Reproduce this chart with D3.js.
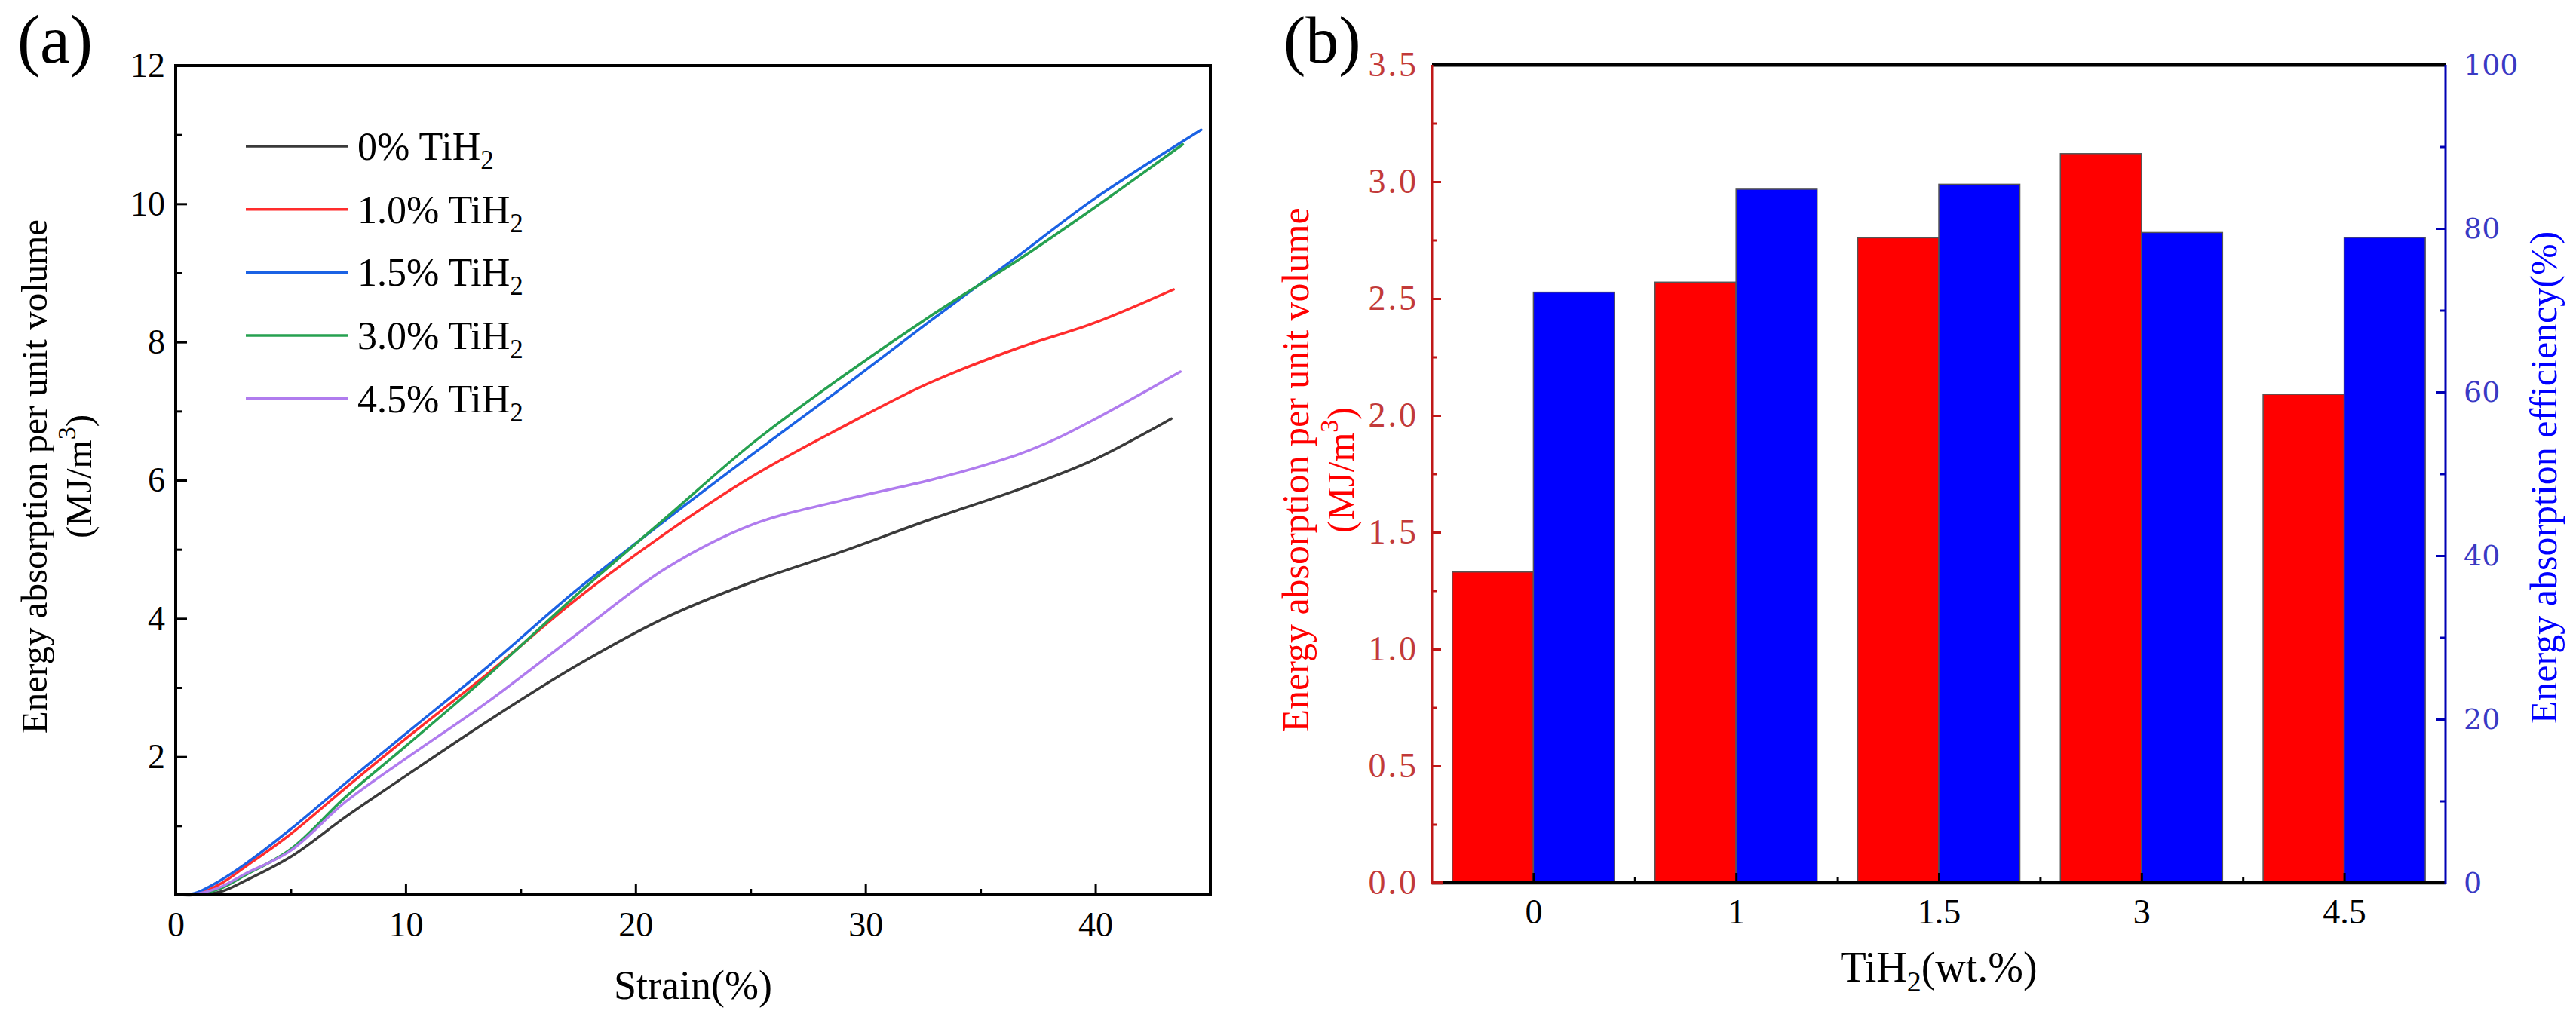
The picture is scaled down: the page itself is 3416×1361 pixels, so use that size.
<!DOCTYPE html>
<html><head><meta charset="utf-8">
<script src="https://cdn.jsdelivr.net/npm/d3@7"></script>
<style>
body{margin:0;background:#fff}
svg{display:block}
text{font-family:"Liberation Serif","Times New Roman",serif}
</style>
</head><body>
<svg id="chart" width="3416" height="1361"></svg>
<script>
// ---------- Panel (a) data ----------
const strainTicks = [0, 10, 20, 30, 40];
const strainMinorTicks = [5, 15, 25, 35];
const energyTicksA = [2, 4, 6, 8, 10, 12];
const energyMinorTicksA = [1, 3, 5, 7, 9, 11];
const seriesLabels = ["0% TiH", "1.0% TiH", "1.5% TiH", "3.0% TiH", "4.5% TiH"];
const seriesColors = ["#3a3a3a", "#ff2d2d", "#1b62e4", "#26a150", "#b07cee"];

const strain_0  = [0, 1, 2, 3, 5, 7.4, 10, 13.6, 17.4, 21.3, 25.1, 29, 32.8, 36.7, 39.9, 43.3];
const energy_0  = [0, 0, 0.05, 0.2, 0.55, 1.13, 1.72, 2.52, 3.31, 4.01, 4.53, 4.97, 5.43, 5.87, 6.29, 6.89];
const strain_10 = [0, 1, 2, 3, 5, 7.4, 10, 13.6, 17.4, 21.3, 25.1, 29, 32.8, 36.7, 39.9, 43.4];
const energy_10 = [0, 0.02, 0.17, 0.4, 0.88, 1.55, 2.26, 3.21, 4.27, 5.23, 6.06, 6.77, 7.41, 7.92, 8.27, 8.76];
const strain_15 = [0, 0.8, 1.9, 3, 5, 7.4, 10, 13.6, 17.4, 21.3, 25.1, 29, 32.8, 36.7, 39.9, 44.6];
const energy_15 = [0, 0.02, 0.2, 0.44, 0.95, 1.62, 2.33, 3.31, 4.4, 5.42, 6.38, 7.34, 8.3, 9.26, 10.06, 11.07];
const strain_30 = [0, 1, 2, 3, 5, 7.4, 10, 13.6, 17.4, 21.3, 25.1, 29, 32.8, 36.7, 39.9, 43.8];
const energy_30 = [0, 0.01, 0.1, 0.28, 0.66, 1.42, 2.15, 3.18, 4.33, 5.45, 6.54, 7.5, 8.37, 9.2, 9.93, 10.86];
const strain_45 = [0, 1, 2, 3, 5, 7.4, 10, 13.6, 17.4, 21.3, 25.1, 29, 32.8, 34.7, 36.7, 38.3, 39.9, 43.7];
const energy_45 = [0, 0.02, 0.12, 0.3, 0.64, 1.35, 1.97, 2.8, 3.76, 4.72, 5.36, 5.71, 6.0, 6.17, 6.38, 6.6, 6.87, 7.57];

// ---------- Panel (b) data ----------
const categories = ["0", "1", "1.5", "3", "4.5"];
const energyAbsorption = [1.33, 2.57, 2.76, 3.12, 2.09];
const absorptionEfficiency = [72.2, 84.8, 85.4, 79.5, 78.9];
const leftTicksB = [0, 0.5, 1.0, 1.5, 2.0, 2.5, 3.0, 3.5];
const leftMinorTicksB = [0.25, 0.75, 1.25, 1.75, 2.25, 2.75, 3.25];
const rightTicksB = [0, 20, 40, 60, 80, 100];
const rightMinorTicksB = [10, 30, 50, 70, 90];

const svg = d3.select("#chart");

// ================= Panel (a) =================
const A = {l: 233, r: 1605, t: 87, b: 1187};
const xA = d3.scaleLinear().domain([0, 45]).range([A.l, A.r]);
const yA = d3.scaleLinear().domain([0, 12]).range([A.b, A.t]);

const seriesA = [
  {label: seriesLabels[0], color: seriesColors[0], xs: strain_0, ys: energy_0},
  {label: seriesLabels[1], color: seriesColors[1], xs: strain_10, ys: energy_10},
  {label: seriesLabels[2], color: seriesColors[2], xs: strain_15, ys: energy_15},
  {label: seriesLabels[3], color: seriesColors[3], xs: strain_30, ys: energy_30},
  {label: seriesLabels[4], color: seriesColors[4], xs: strain_45, ys: energy_45}
];

const line = d3.line().x(d => xA(d[0])).y(d => yA(Math.max(0, d[1]))).curve(d3.curveCatmullRom.alpha(0.5));
const gCurves = svg.append("g");
seriesA.forEach(s => {
  gCurves.append("path").datum(d3.zip(s.xs, s.ys))
    .attr("d", line).attr("fill", "none")
    .attr("stroke", s.color).attr("stroke-width", 3.5)
    .attr("stroke-linejoin", "round").attr("stroke-linecap", "round");
});

function styleAxis(g, color, fs, family) {
  g.select(".domain").remove();
  g.selectAll(".tick line").attr("stroke", color).attr("stroke-width", 3);
  g.selectAll(".tick text").attr("fill", color).attr("font-size", fs)
    .style("font-family", family || '"Liberation Serif", serif');
}

svg.append("g").attr("transform", `translate(0,${A.b})`)
  .call(d3.axisBottom(xA).tickValues(strainTicks).tickSize(-15).tickPadding(22).tickFormat(d3.format("d")))
  .call(g => styleAxis(g, "#000", 46));
svg.append("g").attr("transform", `translate(0,${A.b})`)
  .call(d3.axisBottom(xA).tickValues(strainMinorTicks).tickSize(-8).tickFormat(""))
  .call(g => styleAxis(g, "#000", 46));
svg.append("g").attr("transform", `translate(${A.l},0)`)
  .call(d3.axisLeft(yA).tickValues(energyTicksA).tickSize(-15).tickPadding(14).tickFormat(d3.format("d")))
  .call(g => styleAxis(g, "#000", 46));
svg.append("g").attr("transform", `translate(${A.l},0)`)
  .call(d3.axisLeft(yA).tickValues(energyMinorTicksA).tickSize(-8).tickFormat(""))
  .call(g => styleAxis(g, "#000", 46));

svg.append("rect").attr("x", A.l).attr("y", A.t).attr("width", A.r - A.l).attr("height", A.b - A.t)
  .attr("fill", "none").attr("stroke", "#000").attr("stroke-width", 4);

// legend
const legend = svg.append("g");
seriesA.forEach((s, i) => {
  const y = 194 + i * 83.7;
  legend.append("line").attr("x1", 326).attr("x2", 462).attr("y1", y).attr("y2", y)
    .attr("stroke", s.color).attr("stroke-width", 3.5);
  const t = legend.append("text").attr("x", 474).attr("y", y + 18).attr("font-size", 52).attr("fill", "#000");
  t.append("tspan").text(s.label);
  t.append("tspan").attr("font-size", 35).attr("dy", 12).text("2");
});

// axis titles (a)
svg.append("text").attr("x", (A.l + A.r) / 2).attr("y", 1325).attr("text-anchor", "middle")
  .attr("font-size", 54).text("Strain(%)");
const ytA = svg.append("g").attr("transform", `translate(0,${(A.t + A.b) / 2 - 5}) rotate(-90)`);
ytA.append("text").attr("x", 0).attr("y", 62).attr("text-anchor", "middle").attr("font-size", 49)
  .text("Energy absorption per unit volume");
const ytA2 = ytA.append("text").attr("x", 0).attr("y", 121).attr("text-anchor", "middle").attr("font-size", 49);
ytA2.append("tspan").text("(MJ/m");
ytA2.append("tspan").attr("font-size", 34).attr("dy", -21).text("3");
ytA2.append("tspan").attr("dy", 21).text(")");

svg.append("text").attr("x", 23).attr("y", 83).attr("font-size", 90).text("(a)");

// ================= Panel (b) =================
const B = {l: 1899, r: 3243, t: 86, b: 1171};
const xB = d3.scaleBand().domain(categories).range([B.l, B.r]).paddingInner(0.2).paddingOuter(0.1);
const xSub = d3.scaleBand().domain(["energy", "eff"]).range([0, xB.bandwidth()]);
const yL = d3.scaleLinear().domain([0, 3.5]).range([B.b, B.t]);
const yR = d3.scaleLinear().domain([0, 100]).range([B.b, B.t]);

const gBars = svg.append("g");
categories.forEach((c, i) => {
  gBars.append("rect").attr("x", xB(c) + xSub("energy")).attr("y", yL(energyAbsorption[i]))
    .attr("width", xSub.bandwidth()).attr("height", yL(0) - yL(energyAbsorption[i]))
    .attr("fill", "#ff0000").attr("stroke", "#555").attr("stroke-width", 1.5);
  gBars.append("rect").attr("x", xB(c) + xSub("eff")).attr("y", yR(absorptionEfficiency[i]))
    .attr("width", xSub.bandwidth()).attr("height", yR(0) - yR(absorptionEfficiency[i]))
    .attr("fill", "#0000ff").attr("stroke", "#555").attr("stroke-width", 1.5);
});

const xPoint = c => xB(c) + xB.bandwidth() / 2;
svg.append("g").attr("transform", `translate(0,${B.b})`)
  .call(d3.axisBottom(d3.scalePoint().domain(categories).range([xPoint(categories[0]), xPoint(categories[4])]))
    .tickSize(-13).tickPadding(21))
  .call(g => styleAxis(g, "#000", 46));
const boundaries = categories.slice(0, 4).map((c, i) => (xPoint(c) + xPoint(categories[i + 1])) / 2);
const xLinB = d3.scaleLinear().domain([B.l, B.r]).range([B.l, B.r]);
svg.append("g").attr("transform", `translate(0,${B.b})`)
  .call(d3.axisBottom(xLinB).tickValues(boundaries).tickSize(-7).tickFormat(""))
  .call(g => styleAxis(g, "#000", 46));

const redTick = "#c01818", redLabel = "#c23a3a", blueTick = "#0000b4", blueLabel = "#3a3ac4";
svg.append("g").attr("transform", `translate(${B.l},0)`)
  .call(d3.axisLeft(yL).tickValues(leftTicksB).tickSize(-12).tickPadding(18).tickFormat(d3.format(".1f")))
  .call(g => styleAxis(g, redTick, 46))
  .call(g => g.selectAll(".tick text").attr("fill", redLabel).attr("letter-spacing", 3));
svg.append("g").attr("transform", `translate(${B.l},0)`)
  .call(d3.axisLeft(yL).tickValues(leftMinorTicksB).tickSize(-7).tickFormat(""))
  .call(g => styleAxis(g, redTick, 46));
svg.append("g").attr("transform", `translate(${B.r},0)`)
  .call(d3.axisRight(yR).tickValues(rightTicksB).tickSize(-12).tickPadding(24).tickFormat(d3.format("d")))
  .call(g => styleAxis(g, blueTick, 38, '"DejaVu Serif", serif'))
  .call(g => g.selectAll(".tick text").attr("fill", blueLabel));
svg.append("g").attr("transform", `translate(${B.r},0)`)
  .call(d3.axisRight(yR).tickValues(rightMinorTicksB).tickSize(-7).tickFormat(""))
  .call(g => styleAxis(g, blueTick, 38));

// frame lines
svg.append("line").attr("x1", B.l).attr("x2", B.r).attr("y1", B.t).attr("y2", B.t).attr("stroke", "#000").attr("stroke-width", 5);
svg.append("line").attr("x1", B.l).attr("x2", B.r).attr("y1", B.b).attr("y2", B.b).attr("stroke", "#000").attr("stroke-width", 4.5);
svg.append("line").attr("x1", B.l).attr("x2", B.l).attr("y1", B.t).attr("y2", B.b + 2).attr("stroke", redTick).attr("stroke-width", 3);
svg.append("line").attr("x1", B.r).attr("x2", B.r).attr("y1", B.t).attr("y2", B.b + 2).attr("stroke", blueTick).attr("stroke-width", 3);
svg.append("line").attr("x1", B.l - 2).attr("x2", B.l + 14).attr("y1", B.b).attr("y2", B.b).attr("stroke", redTick).attr("stroke-width", 4.5);

// titles (b)
const xtB = svg.append("text").attr("x", (B.l + B.r) / 2).attr("y", 1302).attr("text-anchor", "middle").attr("font-size", 56);
xtB.append("tspan").text("TiH");
xtB.append("tspan").attr("font-size", 38).attr("dy", 13).text("2");
xtB.append("tspan").attr("dy", -13).text("(wt.%)");

const ytBL = svg.append("g").attr("transform", `translate(0,${(B.t + B.b) / 2 - 5}) rotate(-90)`);
ytBL.append("text").attr("x", 0).attr("y", 1735).attr("text-anchor", "middle").attr("font-size", 50)
  .attr("fill", "#ff0000").text("Energy absorption per unit volume");
const ytBL2 = ytBL.append("text").attr("x", 0).attr("y", 1795).attr("text-anchor", "middle").attr("font-size", 50).attr("fill", "#ff0000");
ytBL2.append("tspan").text("(MJ/m");
ytBL2.append("tspan").attr("font-size", 34).attr("dy", -21).text("3");
ytBL2.append("tspan").attr("dy", 21).text(")");

const ytBR = svg.append("g").attr("transform", `translate(0,${(B.t + B.b) / 2 + 5}) rotate(-90)`);
ytBR.append("text").attr("x", 0).attr("y", 3390).attr("text-anchor", "middle").attr("font-size", 50)
  .attr("fill", "#0000ff").text("Energy absorption efficiency(%)");

svg.append("text").attr("x", 1702).attr("y", 83).attr("font-size", 88).text("(b)");
</script>
</body></html>
